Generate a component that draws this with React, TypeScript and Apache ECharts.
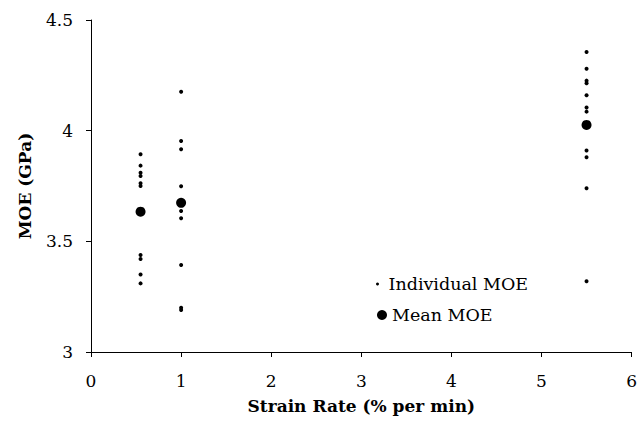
import React, { useEffect, useRef } from "react";
import * as echarts from "echarts";

const rate055 = [3.893, 3.842, 3.81, 3.795, 3.762, 3.75, 3.438, 3.42, 3.35, 3.31];
const rate1 = [4.176, 3.953, 3.916, 3.749, 3.637, 3.604, 3.393, 3.2, 3.19];
const rate55 = [4.355, 4.28, 4.226, 4.214, 4.16, 4.105, 4.086, 3.91, 3.88, 3.74, 3.32];
const strainRates = [0.55, 1, 5.5];
const meanMOE = [3.634, 3.674, 4.026];

const FONT = "'DejaVu Serif', serif";

export default function App() {
  const ref = useRef<HTMLDivElement>(null);
  useEffect(() => {
    const chart = echarts.init(ref.current!, null, { renderer: "svg" });
    const indiv: number[][] = [];
    [rate055, rate1, rate55].forEach((arr, i) => arr.forEach((v) => indiv.push([strainRates[i], v])));
    const means = strainRates.map((x, i) => [x, meanMOE[i]]);
    chart.setOption({
      animation: false,
      backgroundColor: "#ffffff",
      textStyle: { fontFamily: FONT },
      grid: { left: 91, right: 7, top: 20, bottom: 71 },
      xAxis: {
        type: "value",
        min: 0,
        max: 6,
        interval: 1,
        name: "Strain Rate (% per min)",
        nameLocation: "middle",
        nameGap: 45,
        nameTextStyle: { fontFamily: FONT, fontWeight: "bold", fontSize: 17, color: "#000" },
        axisLine: { show: true, lineStyle: { color: "#000", width: 1 } },
        axisTick: { show: true, length: 5, lineStyle: { color: "#000" } },
        axisLabel: { color: "#000", fontSize: 17, fontFamily: FONT, margin: 20 },
        splitLine: { show: false },
      },
      yAxis: {
        type: "value",
        min: 3,
        max: 4.5,
        interval: 0.5,
        name: "MOE (GPa)",
        nameLocation: "middle",
        nameGap: 58,
        nameRotate: 90,
        nameTextStyle: { fontFamily: FONT, fontWeight: "bold", fontSize: 17, color: "#000" },
        axisLine: { show: true, lineStyle: { color: "#000", width: 1 } },
        axisTick: { show: true, length: 5, lineStyle: { color: "#000" } },
        axisLabel: { color: "#000", fontSize: 17, fontFamily: FONT, margin: 18 },
        splitLine: { show: false },
      },
      legend: [
        {
          data: ["Individual MOE"],
          left: 371,
          top: 270,
          itemWidth: 12,
          itemHeight: 3,
          itemGap: 4,
          textStyle: { fontFamily: FONT, fontSize: 17.5, color: "#000" },
        },
        {
          data: ["Mean MOE"],
          left: 372,
          top: 301,
          itemWidth: 10,
          itemHeight: 10,
          textStyle: { fontFamily: FONT, fontSize: 17.5, color: "#000" },
        },
      ],
      series: [
        {
          name: "Individual MOE",
          type: "scatter",
          data: indiv,
          symbol: "circle",
          symbolSize: 4,
          itemStyle: { color: "#000", opacity: 1 },
        },
        {
          name: "Mean MOE",
          type: "scatter",
          data: means,
          symbol: "circle",
          symbolSize: 10,
          itemStyle: { color: "#000", opacity: 1 },
        },
      ],
    });
    return () => chart.dispose();
  }, []);
  return <div ref={ref} style={{ width: 640, height: 423, position: "absolute", left: 0, top: 0 }} />;
}
